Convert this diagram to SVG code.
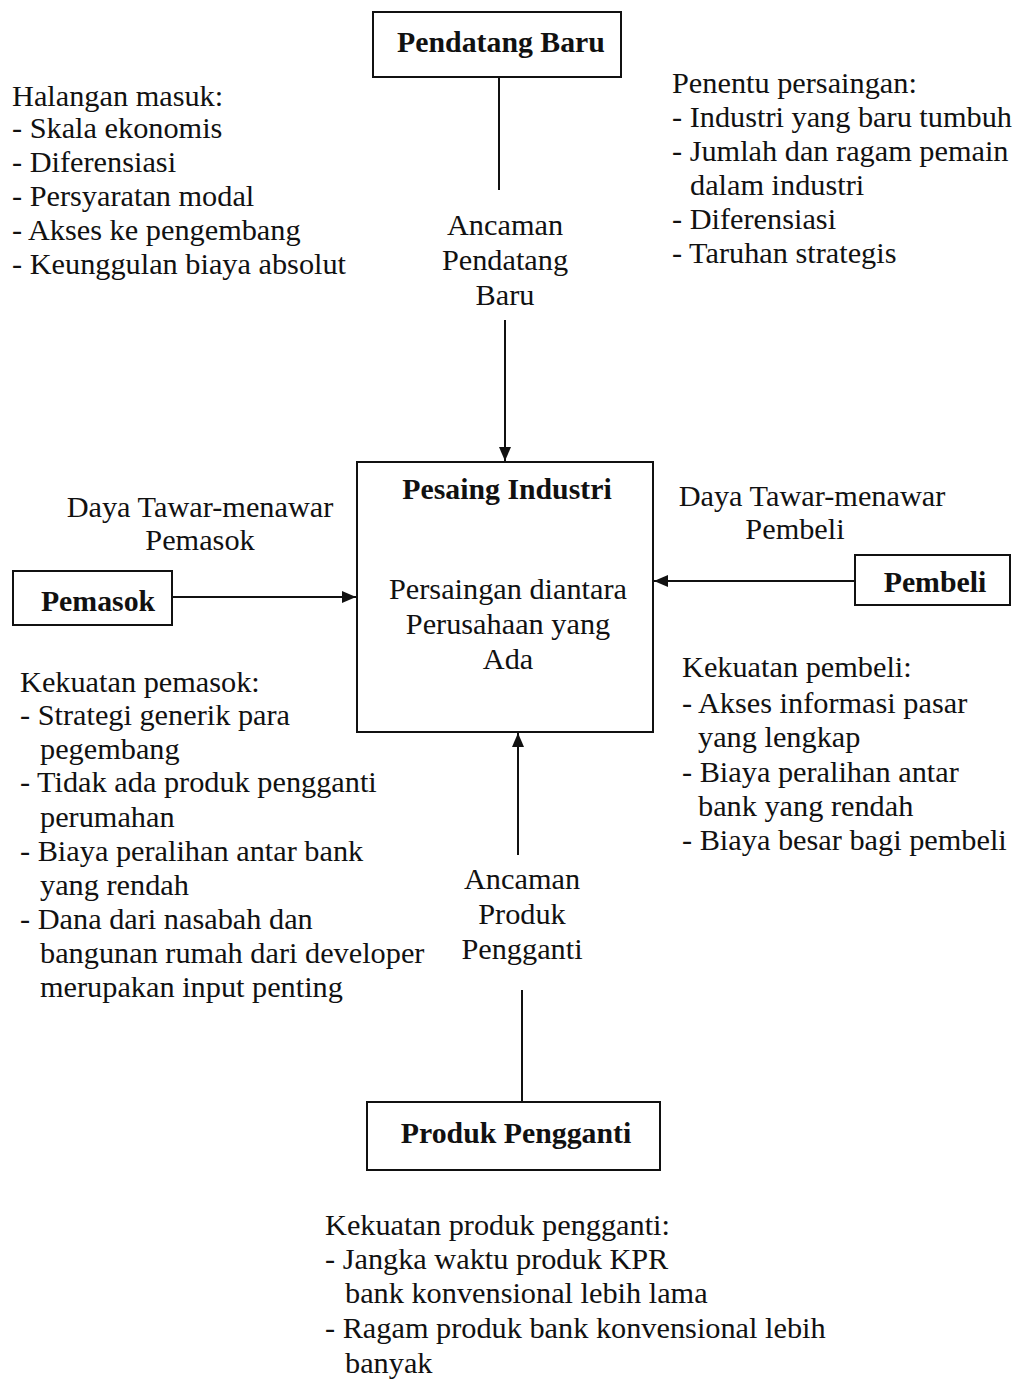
<svg xmlns="http://www.w3.org/2000/svg" width="1017" height="1381" viewBox="0 0 1017 1381">
  <style>
    text { font-family: "Liberation Serif", "Times New Roman", serif; font-size: 30.3px; fill: #111; }
    .b { font-weight: bold; font-size: 29.8px; }
    .c { text-anchor: middle; }
    .box { fill: #fff; stroke: #111; stroke-width: 2; }
    .ln { stroke: #111; stroke-width: 2; fill: none; }
  </style>
  <defs>
    <marker id="arr" viewBox="0 0 14 12" refX="14" refY="6" markerWidth="14" markerHeight="12" markerUnits="userSpaceOnUse" orient="auto">
      <path d="M0,0 L14,6 L0,12 Z" fill="#111"/>
    </marker>
  </defs>
  <rect width="1017" height="1381" fill="#fff"/>

  <!-- connectors -->
  <g id="connectors">
    <line class="ln" x1="499" y1="77" x2="499" y2="190"/>
    <line class="ln" x1="505" y1="320" x2="505" y2="461" marker-end="url(#arr)"/>
    <line class="ln" x1="172" y1="597" x2="356" y2="597" marker-end="url(#arr)"/>
    <line class="ln" x1="855" y1="581" x2="654" y2="581" marker-end="url(#arr)"/>
    <line class="ln" x1="518" y1="855" x2="518" y2="733" marker-end="url(#arr)"/>
    <line class="ln" x1="522" y1="990" x2="522" y2="1102"/>
  </g>

  <!-- potential entrants -->
  <g id="pendatang-baru">
    <rect class="box" x="373" y="12" width="248" height="65"/>
    <text class="b c" x="501" y="52">Pendatang Baru</text>
  </g>

  <!-- industry competitors -->
  <g id="pesaing-industri">
    <rect class="box" x="357" y="462" width="296" height="270"/>
    <text class="b c" x="507" y="499">Pesaing Industri</text>
    <text class="c" x="508" y="599">Persaingan diantara</text>
    <text class="c" x="508" y="634">Perusahaan yang</text>
    <text class="c" x="508" y="669">Ada</text>
  </g>

  <!-- suppliers -->
  <g id="pemasok">
    <rect class="box" x="13" y="571" width="159" height="54"/>
    <text class="b c" x="98" y="611">Pemasok</text>
  </g>

  <!-- buyers -->
  <g id="pembeli">
    <rect class="box" x="855" y="555" width="155" height="50"/>
    <text class="b c" x="935" y="592">Pembeli</text>
  </g>

  <!-- substitutes -->
  <g id="produk-pengganti">
    <rect class="box" x="367" y="1102" width="293" height="68"/>
    <text class="b c" x="516" y="1143">Produk Pengganti</text>
  </g>

  <!-- connector labels -->
  <g id="label-ancaman-pendatang">
    <text class="c" x="505" y="235">Ancaman</text>
    <text class="c" x="505" y="270">Pendatang</text>
    <text class="c" x="505" y="305">Baru</text>
  </g>
  <g id="label-daya-pemasok">
    <text class="c" x="200" y="517">Daya Tawar-menawar</text>
    <text class="c" x="200" y="550">Pemasok</text>
  </g>
  <g id="label-daya-pembeli">
    <text class="c" x="812" y="506">Daya Tawar-menawar</text>
    <text class="c" x="795" y="539">Pembeli</text>
  </g>
  <g id="label-ancaman-produk">
    <text class="c" x="522" y="889">Ancaman</text>
    <text class="c" x="522" y="924">Produk</text>
    <text class="c" x="522" y="959">Pengganti</text>
  </g>

  <!-- notes -->
  <g id="halangan-masuk">
    <text x="12" y="106">Halangan masuk:</text>
    <text x="12" y="138">- Skala ekonomis</text>
    <text x="12" y="172">- Diferensiasi</text>
    <text x="12" y="206">- Persyaratan modal</text>
    <text x="12" y="240">- Akses ke pengembang</text>
    <text x="12" y="274">- Keunggulan biaya absolut</text>
  </g>
  <g id="penentu-persaingan">
    <text x="672" y="93">Penentu persaingan:</text>
    <text x="672" y="127">- Industri yang baru tumbuh</text>
    <text x="672" y="161">- Jumlah dan ragam pemain</text>
    <text x="690" y="195">dalam industri</text>
    <text x="672" y="229">- Diferensiasi</text>
    <text x="672" y="263">- Taruhan strategis</text>
  </g>
  <g id="kekuatan-pemasok">
    <text x="20" y="692">Kekuatan pemasok:</text>
    <text x="20" y="725">- Strategi generik para</text>
    <text x="40" y="759">pegembang</text>
    <text x="20" y="792">- Tidak ada produk pengganti</text>
    <text x="40" y="827">perumahan</text>
    <text x="20" y="861">- Biaya peralihan antar bank</text>
    <text x="40" y="895">yang rendah</text>
    <text x="20" y="929">- Dana dari nasabah dan</text>
    <text x="40" y="963">bangunan rumah dari developer</text>
    <text x="40" y="997">merupakan input penting</text>
  </g>
  <g id="kekuatan-pembeli">
    <text x="682" y="677">Kekuatan pembeli:</text>
    <text x="682" y="713">- Akses informasi pasar</text>
    <text x="698" y="747">yang lengkap</text>
    <text x="682" y="782">- Biaya peralihan antar</text>
    <text x="698" y="816">bank yang rendah</text>
    <text x="682" y="850">- Biaya besar bagi pembeli</text>
  </g>
  <g id="kekuatan-produk-pengganti">
    <text x="325" y="1235">Kekuatan produk pengganti:</text>
    <text x="325" y="1269">- Jangka waktu produk KPR</text>
    <text x="345" y="1303">bank konvensional lebih lama</text>
    <text x="325" y="1338">- Ragam produk bank konvensional lebih</text>
    <text x="345" y="1373">banyak</text>
  </g>
</svg>
